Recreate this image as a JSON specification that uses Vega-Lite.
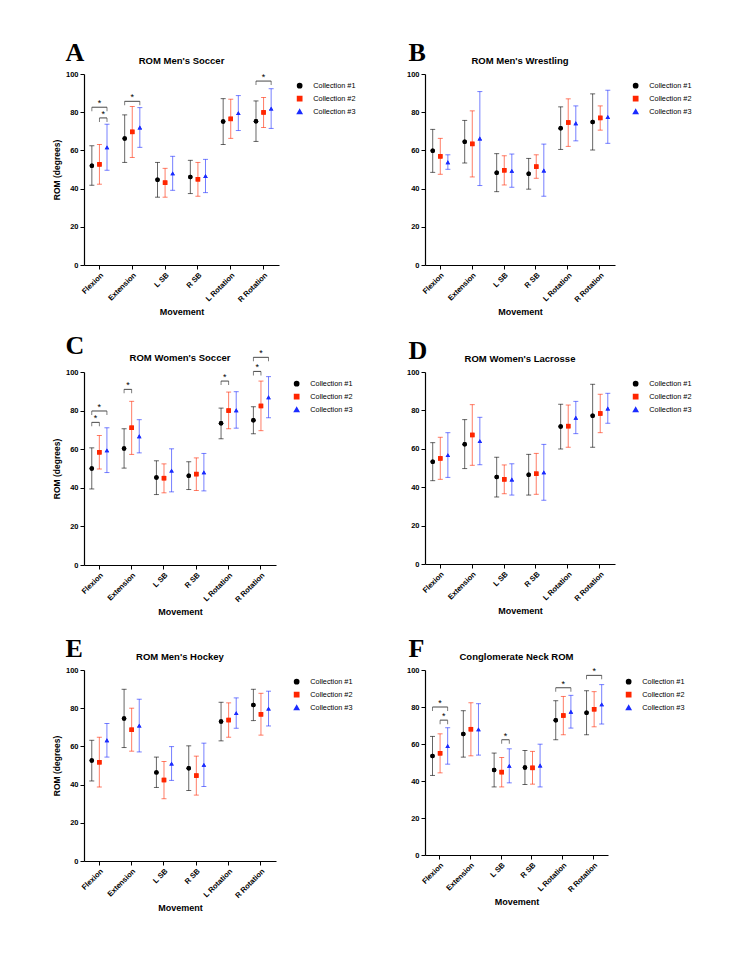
{
"$schema":"https://vega.github.io/schema/vega-lite/v6.json",
"padding":{"left":52,"top":39,"right":5,"bottom":5},
"config":{"font":"Liberation Sans","view":{"stroke":null},
"axis":{"domainColor":"#000","tickColor":"#000","domainWidth":1.2,"tickWidth":1,"tickSize":4,"labelFont":"Liberation Sans","labelFontWeight":"bold","labelFontSize":7.5,"labelColor":"#000","titleFont":"Liberation Sans","titleFontWeight":"bold","titleFontSize":8.5,"titleColor":"#000","grid":false},
"axisX":{"labelAngle":-45,"titleFontSize":9},
"title":{"font":"Liberation Sans","fontSize":9.5,"fontWeight":"bold","color":"#000","offset":5},
"legend":{"title":null,"orient":"right","offset":9,"labelFont":"Liberation Sans","labelFontSize":7.3,"labelColor":"#000","symbolSize":18,"rowPadding":2,"padding":8,"labelOffset":10}},
"datasets":{
"pts":[
{"p":"A","m":"Flexion","c":"Collection #1","mean":52.0,"lo":41.7,"hi":62.4},
{"p":"A","m":"Flexion","c":"Collection #2","mean":52.7,"lo":42.3,"hi":63.1},
{"p":"A","m":"Flexion","c":"Collection #3","mean":61.6,"lo":49.6,"hi":73.7},
{"p":"A","m":"Extension","c":"Collection #1","mean":66.2,"lo":53.7,"hi":78.6},
{"p":"A","m":"Extension","c":"Collection #2","mean":69.7,"lo":56.3,"hi":83.0},
{"p":"A","m":"Extension","c":"Collection #3","mean":72.0,"lo":61.6,"hi":82.4},
{"p":"A","m":"L SB","c":"Collection #1","mean":44.6,"lo":35.5,"hi":53.7},
{"p":"A","m":"L SB","c":"Collection #2","mean":43.1,"lo":35.5,"hi":50.6},
{"p":"A","m":"L SB","c":"Collection #3","mean":48.0,"lo":39.1,"hi":56.9},
{"p":"A","m":"R SB","c":"Collection #1","mean":46.1,"lo":37.4,"hi":54.8},
{"p":"A","m":"R SB","c":"Collection #2","mean":44.9,"lo":36.0,"hi":53.7},
{"p":"A","m":"R SB","c":"Collection #3","mean":46.6,"lo":37.9,"hi":55.3},
{"p":"A","m":"L Rotation","c":"Collection #1","mean":75.1,"lo":63.1,"hi":87.1},
{"p":"A","m":"L Rotation","c":"Collection #2","mean":76.5,"lo":66.3,"hi":86.8},
{"p":"A","m":"L Rotation","c":"Collection #3","mean":79.5,"lo":70.4,"hi":88.7},
{"p":"A","m":"R Rotation","c":"Collection #1","mean":75.3,"lo":64.7,"hi":85.9},
{"p":"A","m":"R Rotation","c":"Collection #2","mean":79.9,"lo":72.0,"hi":87.7},
{"p":"A","m":"R Rotation","c":"Collection #3","mean":81.9,"lo":71.5,"hi":92.3},
{"p":"B","m":"Flexion","c":"Collection #1","mean":59.8,"lo":48.5,"hi":71.0},
{"p":"B","m":"Flexion","c":"Collection #2","mean":56.9,"lo":47.5,"hi":66.3},
{"p":"B","m":"Flexion","c":"Collection #3","mean":53.8,"lo":50.1,"hi":57.7},
{"p":"B","m":"Extension","c":"Collection #1","mean":64.5,"lo":53.4,"hi":75.7},
{"p":"B","m":"Extension","c":"Collection #2","mean":63.4,"lo":46.1,"hi":80.7},
{"p":"B","m":"Extension","c":"Collection #3","mean":66.2,"lo":41.6,"hi":90.8},
{"p":"B","m":"L SB","c":"Collection #1","mean":48.3,"lo":38.4,"hi":58.3},
{"p":"B","m":"L SB","c":"Collection #2","mean":49.6,"lo":41.9,"hi":57.2},
{"p":"B","m":"L SB","c":"Collection #3","mean":49.3,"lo":40.7,"hi":58.1},
{"p":"B","m":"R SB","c":"Collection #1","mean":47.8,"lo":39.7,"hi":55.8},
{"p":"B","m":"R SB","c":"Collection #2","mean":51.5,"lo":45.4,"hi":57.7},
{"p":"B","m":"R SB","c":"Collection #3","mean":49.5,"lo":36.0,"hi":63.3},
{"p":"B","m":"L Rotation","c":"Collection #1","mean":71.6,"lo":60.5,"hi":82.8},
{"p":"B","m":"L Rotation","c":"Collection #2","mean":74.6,"lo":62.1,"hi":87.0},
{"p":"B","m":"L Rotation","c":"Collection #3","mean":74.2,"lo":65.0,"hi":83.3},
{"p":"B","m":"R Rotation","c":"Collection #1","mean":74.9,"lo":60.2,"hi":89.6},
{"p":"B","m":"R Rotation","c":"Collection #2","mean":77.0,"lo":70.6,"hi":83.3},
{"p":"B","m":"R Rotation","c":"Collection #3","mean":77.5,"lo":63.7,"hi":91.5},
{"p":"C","m":"Flexion","c":"Collection #1","mean":50.0,"lo":39.4,"hi":60.7},
{"p":"C","m":"Flexion","c":"Collection #2","mean":58.4,"lo":49.7,"hi":67.1},
{"p":"C","m":"Flexion","c":"Collection #3","mean":59.4,"lo":47.9,"hi":71.1},
{"p":"C","m":"Extension","c":"Collection #1","mean":60.4,"lo":50.2,"hi":70.6},
{"p":"C","m":"Extension","c":"Collection #2","mean":71.1,"lo":57.3,"hi":84.8},
{"p":"C","m":"Extension","c":"Collection #3","mean":66.7,"lo":58.1,"hi":75.3},
{"p":"C","m":"L SB","c":"Collection #1","mean":45.3,"lo":36.5,"hi":54.0},
{"p":"C","m":"L SB","c":"Collection #2","mean":45.0,"lo":37.4,"hi":52.4},
{"p":"C","m":"L SB","c":"Collection #3","mean":48.9,"lo":37.9,"hi":60.2},
{"p":"C","m":"R SB","c":"Collection #1","mean":46.3,"lo":39.1,"hi":53.5},
{"p":"C","m":"R SB","c":"Collection #2","mean":47.1,"lo":38.6,"hi":55.5},
{"p":"C","m":"R SB","c":"Collection #3","mean":48.0,"lo":38.4,"hi":57.8},
{"p":"C","m":"L Rotation","c":"Collection #1","mean":73.4,"lo":65.4,"hi":81.3},
{"p":"C","m":"L Rotation","c":"Collection #2","mean":80.0,"lo":70.6,"hi":89.6},
{"p":"C","m":"L Rotation","c":"Collection #3","mean":80.2,"lo":70.9,"hi":89.8},
{"p":"C","m":"R Rotation","c":"Collection #1","mean":75.0,"lo":68.0,"hi":82.0},
{"p":"C","m":"R Rotation","c":"Collection #2","mean":82.4,"lo":69.6,"hi":95.3},
{"p":"C","m":"R Rotation","c":"Collection #3","mean":86.9,"lo":76.3,"hi":97.6},
{"p":"D","m":"Flexion","c":"Collection #1","mean":53.3,"lo":43.4,"hi":63.2},
{"p":"D","m":"Flexion","c":"Collection #2","mean":55.0,"lo":44.1,"hi":66.0},
{"p":"D","m":"Flexion","c":"Collection #3","mean":56.7,"lo":45.1,"hi":68.4},
{"p":"D","m":"Extension","c":"Collection #1","mean":62.4,"lo":49.7,"hi":75.2},
{"p":"D","m":"Extension","c":"Collection #2","mean":67.2,"lo":51.4,"hi":83.0},
{"p":"D","m":"Extension","c":"Collection #3","mean":64.0,"lo":51.7,"hi":76.4},
{"p":"D","m":"L SB","c":"Collection #1","mean":45.3,"lo":34.9,"hi":55.6},
{"p":"D","m":"L SB","c":"Collection #2","mean":44.1,"lo":36.6,"hi":51.6},
{"p":"D","m":"L SB","c":"Collection #3","mean":44.0,"lo":35.9,"hi":52.2},
{"p":"D","m":"R SB","c":"Collection #1","mean":46.5,"lo":35.9,"hi":57.1},
{"p":"D","m":"R SB","c":"Collection #2","mean":47.0,"lo":36.3,"hi":57.6},
{"p":"D","m":"R SB","c":"Collection #3","mean":47.7,"lo":33.2,"hi":62.3},
{"p":"D","m":"L Rotation","c":"Collection #1","mean":71.6,"lo":59.9,"hi":83.2},
{"p":"D","m":"L Rotation","c":"Collection #2","mean":71.8,"lo":60.8,"hi":82.8},
{"p":"D","m":"L Rotation","c":"Collection #3","mean":76.2,"lo":67.9,"hi":84.7},
{"p":"D","m":"R Rotation","c":"Collection #1","mean":77.2,"lo":60.8,"hi":93.6},
{"p":"D","m":"R Rotation","c":"Collection #2","mean":78.4,"lo":68.4,"hi":88.4},
{"p":"D","m":"R Rotation","c":"Collection #3","mean":81.0,"lo":73.3,"hi":88.9},
{"p":"E","m":"Flexion","c":"Collection #1","mean":52.6,"lo":41.9,"hi":63.2},
{"p":"E","m":"Flexion","c":"Collection #2","mean":51.7,"lo":38.7,"hi":64.8},
{"p":"E","m":"Flexion","c":"Collection #3","mean":63.2,"lo":54.4,"hi":72.0},
{"p":"E","m":"Extension","c":"Collection #1","mean":74.6,"lo":59.4,"hi":89.9},
{"p":"E","m":"Extension","c":"Collection #2","mean":68.7,"lo":57.5,"hi":80.0},
{"p":"E","m":"Extension","c":"Collection #3","mean":70.9,"lo":57.1,"hi":84.7},
{"p":"E","m":"L SB","c":"Collection #1","mean":46.4,"lo":38.5,"hi":54.4},
{"p":"E","m":"L SB","c":"Collection #2","mean":42.4,"lo":32.6,"hi":52.1},
{"p":"E","m":"L SB","c":"Collection #3","mean":51.0,"lo":42.2,"hi":59.9},
{"p":"E","m":"R SB","c":"Collection #1","mean":48.6,"lo":36.9,"hi":60.3},
{"p":"E","m":"R SB","c":"Collection #2","mean":44.7,"lo":34.5,"hi":54.9},
{"p":"E","m":"R SB","c":"Collection #3","mean":50.3,"lo":39.0,"hi":61.7},
{"p":"E","m":"L Rotation","c":"Collection #1","mean":73.0,"lo":62.9,"hi":83.1},
{"p":"E","m":"L Rotation","c":"Collection #2","mean":73.8,"lo":64.8,"hi":82.8},
{"p":"E","m":"L Rotation","c":"Collection #3","mean":77.4,"lo":69.5,"hi":85.4},
{"p":"E","m":"R Rotation","c":"Collection #1","mean":81.7,"lo":73.5,"hi":89.9},
{"p":"E","m":"R Rotation","c":"Collection #2","mean":76.8,"lo":65.9,"hi":87.8},
{"p":"E","m":"R Rotation","c":"Collection #3","mean":79.8,"lo":70.7,"hi":88.9},
{"p":"F","m":"Flexion","c":"Collection #1","mean":53.5,"lo":43.0,"hi":64.1},
{"p":"F","m":"Flexion","c":"Collection #2","mean":55.0,"lo":44.4,"hi":65.5},
{"p":"F","m":"Flexion","c":"Collection #3","mean":58.9,"lo":49.1,"hi":68.8},
{"p":"F","m":"Extension","c":"Collection #1","mean":65.4,"lo":52.9,"hi":78.0},
{"p":"F","m":"Extension","c":"Collection #2","mean":68.0,"lo":53.6,"hi":82.3},
{"p":"F","m":"Extension","c":"Collection #3","mean":67.9,"lo":54.0,"hi":81.8},
{"p":"F","m":"L SB","c":"Collection #1","mean":45.9,"lo":36.8,"hi":55.1},
{"p":"F","m":"L SB","c":"Collection #2","mean":44.8,"lo":36.8,"hi":52.7},
{"p":"F","m":"L SB","c":"Collection #3","mean":48.2,"lo":39.0,"hi":57.4},
{"p":"F","m":"R SB","c":"Collection #1","mean":47.3,"lo":38.1,"hi":56.5},
{"p":"F","m":"R SB","c":"Collection #2","mean":47.1,"lo":38.3,"hi":56.0},
{"p":"F","m":"R SB","c":"Collection #3","mean":48.4,"lo":36.8,"hi":59.9},
{"p":"F","m":"L Rotation","c":"Collection #1","mean":72.8,"lo":62.3,"hi":83.4},
{"p":"F","m":"L Rotation","c":"Collection #2","mean":75.4,"lo":65.0,"hi":85.7},
{"p":"F","m":"L Rotation","c":"Collection #3","mean":77.4,"lo":68.6,"hi":86.3},
{"p":"F","m":"R Rotation","c":"Collection #1","mean":76.9,"lo":65.0,"hi":88.8},
{"p":"F","m":"R Rotation","c":"Collection #2","mean":78.8,"lo":69.3,"hi":88.3},
{"p":"F","m":"R Rotation","c":"Collection #3","mean":81.4,"lo":70.8,"hi":92.1}
],
"br":[
{"p":"A","b":"A1","m":"Flexion","s":"Collection #1","y":82.6},{"p":"A","b":"A1","m":"Flexion","s":"Collection #3","y":82.6},
{"p":"A","b":"A2","m":"Flexion","s":"Collection #2","y":77.0},{"p":"A","b":"A2","m":"Flexion","s":"Collection #3","y":77.0},
{"p":"A","b":"A3","m":"Extension","s":"Collection #1","y":85.7},{"p":"A","b":"A3","m":"Extension","s":"Collection #3","y":85.7},
{"p":"A","b":"A4","m":"R Rotation","s":"Collection #1","y":96.3},{"p":"A","b":"A4","m":"R Rotation","s":"Collection #3","y":96.3},
{"p":"C","b":"C1","m":"Flexion","s":"Collection #1","y":73.9},{"p":"C","b":"C1","m":"Flexion","s":"Collection #2","y":73.9},
{"p":"C","b":"C2","m":"Flexion","s":"Collection #1","y":79.8},{"p":"C","b":"C2","m":"Flexion","s":"Collection #3","y":79.8},
{"p":"C","b":"C3","m":"Extension","s":"Collection #1","y":91.0},{"p":"C","b":"C3","m":"Extension","s":"Collection #2","y":91.0},
{"p":"C","b":"C4","m":"L Rotation","s":"Collection #1","y":95.3},{"p":"C","b":"C4","m":"L Rotation","s":"Collection #2","y":95.3},
{"p":"C","b":"C5","m":"R Rotation","s":"Collection #1","y":100.3},{"p":"C","b":"C5","m":"R Rotation","s":"Collection #2","y":100.3},
{"p":"C","b":"C6","m":"R Rotation","s":"Collection #1","y":107.6},{"p":"C","b":"C6","m":"R Rotation","s":"Collection #3","y":107.6},
{"p":"F","b":"F1","m":"Flexion","s":"Collection #1","y":80.0},{"p":"F","b":"F1","m":"Flexion","s":"Collection #3","y":80.0},
{"p":"F","b":"F2","m":"Flexion","s":"Collection #2","y":72.9},{"p":"F","b":"F2","m":"Flexion","s":"Collection #3","y":72.9},
{"p":"F","b":"F3","m":"L SB","s":"Collection #2","y":62.3},{"p":"F","b":"F3","m":"L SB","s":"Collection #3","y":62.3},
{"p":"F","b":"F4","m":"L Rotation","s":"Collection #1","y":90.4},{"p":"F","b":"F4","m":"L Rotation","s":"Collection #3","y":90.4},
{"p":"F","b":"F5","m":"R Rotation","s":"Collection #1","y":97.1},{"p":"F","b":"F5","m":"R Rotation","s":"Collection #3","y":97.1}
],
"st":[
{"p":"A","m":"Flexion","s":"Collection #2","y":82.6},
{"p":"A","m":"Flexion","s":"m23","y":77.0},
{"p":"A","m":"Extension","s":"Collection #2","y":85.7},
{"p":"A","m":"R Rotation","s":"Collection #2","y":96.3},
{"p":"C","m":"Flexion","s":"m12","y":73.9},
{"p":"C","m":"Flexion","s":"Collection #2","y":79.8},
{"p":"C","m":"Extension","s":"m12","y":91.0},
{"p":"C","m":"L Rotation","s":"m12","y":95.3},
{"p":"C","m":"R Rotation","s":"m12","y":100.3},
{"p":"C","m":"R Rotation","s":"Collection #2","y":107.6},
{"p":"F","m":"Flexion","s":"Collection #2","y":80.0},
{"p":"F","m":"Flexion","s":"m23","y":72.9},
{"p":"F","m":"L SB","s":"m23","y":62.3},
{"p":"F","m":"L Rotation","s":"Collection #2","y":90.4},
{"p":"F","m":"R Rotation","s":"Collection #2","y":97.1}
]},
"resolve":{"legend":{"color":"independent","shape":"independent"}},
"spacing":16,
"vconcat":[
{"spacing":42,"resolve":{"legend":{"color":"independent","shape":"independent"}},"hconcat":[
{"title":{"text":"A","anchor":"start","font":"Liberation Serif","fontSize":26,"fontWeight":"bold","offset":-10,"dx":13},"resolve":{"legend":{"color":"independent","shape":"independent"}},"vconcat":[
{"width":195,"height":191,"title":"ROM Men's Soccer",
"encoding":{"x":{"field":"m","type":"nominal","sort":["Flexion","Extension","L SB","R SB","L Rotation","R Rotation"],"scale":{"paddingInner":0.4,"paddingOuter":0.17},"axis":{"title":"Movement"}},"y":{"type":"quantitative","scale":{"domain":[0,100],"nice":false},"axis":{"values":[0,20,40,60,80,100],"title":"ROM (degrees)"}}},
"layer":[
{"data":{"name":"pts"},"transform":[{"filter":{"field":"p","equal":"A"}}],"mark":{"type":"point","filled":true,"opacity":1,"size":20},"encoding":{"xOffset":{"field":"c","scale":{"type":"point","domain":["Collection #1","m12","Collection #2","m23","Collection #3"],"padding":0.6}},"y":{"field":"mean"},"color":{"field":"c","scale":{"domain":["Collection #1","Collection #2","Collection #3"],"range":["#000000","#ff2600","#1b2cff"]}},"shape":{"field":"c","scale":{"domain":["Collection #1","Collection #2","Collection #3"],"range":["circle","square","triangle-up"]}}}},
{"data":{"name":"pts"},"transform":[{"filter":{"field":"p","equal":"A"}}],"mark":{"type":"rule","opacity":0.6,"strokeWidth":1},"encoding":{"xOffset":{"field":"c"},"y":{"field":"lo"},"y2":{"field":"hi"},"color":{"field":"c"}}},
{"data":{"name":"pts"},"transform":[{"filter":{"field":"p","equal":"A"}}],"mark":{"type":"tick","orient":"horizontal","size":5,"thickness":1,"opacity":0.6},"encoding":{"xOffset":{"field":"c"},"y":{"field":"lo"},"color":{"field":"c"}}},
{"data":{"name":"pts"},"transform":[{"filter":{"field":"p","equal":"A"}}],"mark":{"type":"tick","orient":"horizontal","size":5,"thickness":1,"opacity":0.6},"encoding":{"xOffset":{"field":"c"},"y":{"field":"hi"},"color":{"field":"c"}}},
{"data":{"name":"pts"},"transform":[{"filter":{"field":"p","equal":"A"}}],"mark":{"type":"point","filled":true,"opacity":1,"size":20},"encoding":{"xOffset":{"field":"c"},"y":{"field":"mean"},"color":{"field":"c"},"shape":{"field":"c"}}},
{"data":{"name":"br"},"transform":[{"filter":{"field":"p","equal":"A"}}],"mark":{"type":"line","color":"#333","strokeWidth":0.9},"encoding":{"xOffset":{"field":"s"},"y":{"field":"y"},"detail":{"field":"b"}}},
{"data":{"name":"br"},"transform":[{"filter":{"field":"p","equal":"A"}}],"mark":{"type":"tick","orient":"vertical","size":4,"thickness":0.9,"color":"#333","yOffset":2},"encoding":{"xOffset":{"field":"s"},"y":{"field":"y"}}},
{"data":{"name":"st"},"transform":[{"filter":{"field":"p","equal":"A"}}],"mark":{"type":"text","text":"*","fontSize":9,"baseline":"alphabetic","dy":-1,"color":"#000"},"encoding":{"xOffset":{"field":"s"},"y":{"field":"y"}}}
]}]},
{"title":{"text":"B","anchor":"start","font":"Liberation Serif","fontSize":26,"fontWeight":"bold","offset":-10,"dx":2},"resolve":{"legend":{"color":"independent","shape":"independent"}},"vconcat":[
{"width":190,"height":191,"title":"ROM Men's Wrestling",
"encoding":{"x":{"field":"m","type":"nominal","sort":["Flexion","Extension","L SB","R SB","L Rotation","R Rotation"],"scale":{"paddingInner":0.4,"paddingOuter":0.17},"axis":{"title":"Movement"}},"y":{"type":"quantitative","scale":{"domain":[0,100],"nice":false},"axis":{"values":[0,20,40,60,80,100],"title":null}}},
"layer":[
{"data":{"name":"pts"},"transform":[{"filter":{"field":"p","equal":"B"}}],"mark":{"type":"point","filled":true,"opacity":1,"size":20},"encoding":{"xOffset":{"field":"c","scale":{"type":"point","domain":["Collection #1","m12","Collection #2","m23","Collection #3"],"padding":0.6}},"y":{"field":"mean"},"color":{"field":"c","scale":{"domain":["Collection #1","Collection #2","Collection #3"],"range":["#000000","#ff2600","#1b2cff"]}},"shape":{"field":"c","scale":{"domain":["Collection #1","Collection #2","Collection #3"],"range":["circle","square","triangle-up"]}}}},
{"data":{"name":"pts"},"transform":[{"filter":{"field":"p","equal":"B"}}],"mark":{"type":"rule","opacity":0.6,"strokeWidth":1},"encoding":{"xOffset":{"field":"c"},"y":{"field":"lo"},"y2":{"field":"hi"},"color":{"field":"c"}}},
{"data":{"name":"pts"},"transform":[{"filter":{"field":"p","equal":"B"}}],"mark":{"type":"tick","orient":"horizontal","size":5,"thickness":1,"opacity":0.6},"encoding":{"xOffset":{"field":"c"},"y":{"field":"lo"},"color":{"field":"c"}}},
{"data":{"name":"pts"},"transform":[{"filter":{"field":"p","equal":"B"}}],"mark":{"type":"tick","orient":"horizontal","size":5,"thickness":1,"opacity":0.6},"encoding":{"xOffset":{"field":"c"},"y":{"field":"hi"},"color":{"field":"c"}}},
{"data":{"name":"pts"},"transform":[{"filter":{"field":"p","equal":"B"}}],"mark":{"type":"point","filled":true,"opacity":1,"size":20},"encoding":{"xOffset":{"field":"c"},"y":{"field":"mean"},"color":{"field":"c"},"shape":{"field":"c"}}}
]}]}
]},
{"spacing":18,"resolve":{"legend":{"color":"independent","shape":"independent"}},"vconcat":[
{"spacing":45,"resolve":{"legend":{"color":"independent","shape":"independent"}},"hconcat":[
{"title":{"text":"C","anchor":"start","font":"Liberation Serif","fontSize":26,"fontWeight":"bold","offset":-10,"dx":13},"resolve":{"legend":{"color":"independent","shape":"independent"}},"vconcat":[
{"width":192,"height":193,"title":{"text":"ROM Women's  Soccer","offset":-13},
"encoding":{"x":{"field":"m","type":"nominal","sort":["Flexion","Extension","L SB","R SB","L Rotation","R Rotation"],"scale":{"paddingInner":0.4,"paddingOuter":0.17},"axis":{"title":"Movement"}},"y":{"type":"quantitative","scale":{"domain":[0,100],"nice":false},"axis":{"values":[0,20,40,60,80,100],"title":"ROM  (degrees)"}}},
"layer":[
{"data":{"name":"pts"},"transform":[{"filter":{"field":"p","equal":"C"}}],"mark":{"type":"point","filled":true,"opacity":1,"size":20},"encoding":{"xOffset":{"field":"c","scale":{"type":"point","domain":["Collection #1","m12","Collection #2","m23","Collection #3"],"padding":0.6}},"y":{"field":"mean"},"color":{"field":"c","scale":{"domain":["Collection #1","Collection #2","Collection #3"],"range":["#000000","#ff2600","#1b2cff"]}},"shape":{"field":"c","scale":{"domain":["Collection #1","Collection #2","Collection #3"],"range":["circle","square","triangle-up"]}}}},
{"data":{"name":"pts"},"transform":[{"filter":{"field":"p","equal":"C"}}],"mark":{"type":"rule","opacity":0.6,"strokeWidth":1},"encoding":{"xOffset":{"field":"c"},"y":{"field":"lo"},"y2":{"field":"hi"},"color":{"field":"c"}}},
{"data":{"name":"pts"},"transform":[{"filter":{"field":"p","equal":"C"}}],"mark":{"type":"tick","orient":"horizontal","size":5,"thickness":1,"opacity":0.6},"encoding":{"xOffset":{"field":"c"},"y":{"field":"lo"},"color":{"field":"c"}}},
{"data":{"name":"pts"},"transform":[{"filter":{"field":"p","equal":"C"}}],"mark":{"type":"tick","orient":"horizontal","size":5,"thickness":1,"opacity":0.6},"encoding":{"xOffset":{"field":"c"},"y":{"field":"hi"},"color":{"field":"c"}}},
{"data":{"name":"pts"},"transform":[{"filter":{"field":"p","equal":"C"}}],"mark":{"type":"point","filled":true,"opacity":1,"size":20},"encoding":{"xOffset":{"field":"c"},"y":{"field":"mean"},"color":{"field":"c"},"shape":{"field":"c"}}},
{"data":{"name":"br"},"transform":[{"filter":{"field":"p","equal":"C"}}],"mark":{"type":"line","color":"#333","strokeWidth":0.9},"encoding":{"xOffset":{"field":"s"},"y":{"field":"y"},"detail":{"field":"b"}}},
{"data":{"name":"br"},"transform":[{"filter":{"field":"p","equal":"C"}}],"mark":{"type":"tick","orient":"vertical","size":4,"thickness":0.9,"color":"#333","yOffset":2},"encoding":{"xOffset":{"field":"s"},"y":{"field":"y"}}},
{"data":{"name":"st"},"transform":[{"filter":{"field":"p","equal":"C"}}],"mark":{"type":"text","text":"*","fontSize":9,"baseline":"alphabetic","dy":-1,"color":"#000"},"encoding":{"xOffset":{"field":"s"},"y":{"field":"y"}}}
]}]},
{"title":{"text":"D","anchor":"start","font":"Liberation Serif","fontSize":26,"fontWeight":"bold","offset":-10,"dx":2},"resolve":{"legend":{"color":"independent","shape":"independent"}},"vconcat":[
{"width":190,"height":192,"title":"ROM Women's Lacrosse",
"encoding":{"x":{"field":"m","type":"nominal","sort":["Flexion","Extension","L SB","R SB","L Rotation","R Rotation"],"scale":{"paddingInner":0.4,"paddingOuter":0.17},"axis":{"title":"Movement"}},"y":{"type":"quantitative","scale":{"domain":[0,100],"nice":false},"axis":{"values":[0,20,40,60,80,100],"title":null}}},
"layer":[
{"data":{"name":"pts"},"transform":[{"filter":{"field":"p","equal":"D"}}],"mark":{"type":"point","filled":true,"opacity":1,"size":20},"encoding":{"xOffset":{"field":"c","scale":{"type":"point","domain":["Collection #1","m12","Collection #2","m23","Collection #3"],"padding":0.6}},"y":{"field":"mean"},"color":{"field":"c","scale":{"domain":["Collection #1","Collection #2","Collection #3"],"range":["#000000","#ff2600","#1b2cff"]}},"shape":{"field":"c","scale":{"domain":["Collection #1","Collection #2","Collection #3"],"range":["circle","square","triangle-up"]}}}},
{"data":{"name":"pts"},"transform":[{"filter":{"field":"p","equal":"D"}}],"mark":{"type":"rule","opacity":0.6,"strokeWidth":1},"encoding":{"xOffset":{"field":"c"},"y":{"field":"lo"},"y2":{"field":"hi"},"color":{"field":"c"}}},
{"data":{"name":"pts"},"transform":[{"filter":{"field":"p","equal":"D"}}],"mark":{"type":"tick","orient":"horizontal","size":5,"thickness":1,"opacity":0.6},"encoding":{"xOffset":{"field":"c"},"y":{"field":"lo"},"color":{"field":"c"}}},
{"data":{"name":"pts"},"transform":[{"filter":{"field":"p","equal":"D"}}],"mark":{"type":"tick","orient":"horizontal","size":5,"thickness":1,"opacity":0.6},"encoding":{"xOffset":{"field":"c"},"y":{"field":"hi"},"color":{"field":"c"}}},
{"data":{"name":"pts"},"transform":[{"filter":{"field":"p","equal":"D"}}],"mark":{"type":"point","filled":true,"opacity":1,"size":20},"encoding":{"xOffset":{"field":"c"},"y":{"field":"mean"},"color":{"field":"c"},"shape":{"field":"c"}}}
]}]}
]},
{"spacing":45,"resolve":{"legend":{"color":"independent","shape":"independent"}},"hconcat":[
{"title":{"text":"E","anchor":"start","font":"Liberation Serif","fontSize":26,"fontWeight":"bold","offset":-10,"dx":13},"resolve":{"legend":{"color":"independent","shape":"independent"}},"vconcat":[
{"width":192,"height":191,"title":"ROM Men's Hockey",
"encoding":{"x":{"field":"m","type":"nominal","sort":["Flexion","Extension","L SB","R SB","L Rotation","R Rotation"],"scale":{"paddingInner":0.4,"paddingOuter":0.17},"axis":{"title":"Movement"}},"y":{"type":"quantitative","scale":{"domain":[0,100],"nice":false},"axis":{"values":[0,20,40,60,80,100],"title":"ROM (degrees)"}}},
"layer":[
{"data":{"name":"pts"},"transform":[{"filter":{"field":"p","equal":"E"}}],"mark":{"type":"point","filled":true,"opacity":1,"size":20},"encoding":{"xOffset":{"field":"c","scale":{"type":"point","domain":["Collection #1","m12","Collection #2","m23","Collection #3"],"padding":0.6}},"y":{"field":"mean"},"color":{"field":"c","scale":{"domain":["Collection #1","Collection #2","Collection #3"],"range":["#000000","#ff2600","#1b2cff"]}},"shape":{"field":"c","scale":{"domain":["Collection #1","Collection #2","Collection #3"],"range":["circle","square","triangle-up"]}}}},
{"data":{"name":"pts"},"transform":[{"filter":{"field":"p","equal":"E"}}],"mark":{"type":"rule","opacity":0.6,"strokeWidth":1},"encoding":{"xOffset":{"field":"c"},"y":{"field":"lo"},"y2":{"field":"hi"},"color":{"field":"c"}}},
{"data":{"name":"pts"},"transform":[{"filter":{"field":"p","equal":"E"}}],"mark":{"type":"tick","orient":"horizontal","size":5,"thickness":1,"opacity":0.6},"encoding":{"xOffset":{"field":"c"},"y":{"field":"lo"},"color":{"field":"c"}}},
{"data":{"name":"pts"},"transform":[{"filter":{"field":"p","equal":"E"}}],"mark":{"type":"tick","orient":"horizontal","size":5,"thickness":1,"opacity":0.6},"encoding":{"xOffset":{"field":"c"},"y":{"field":"hi"},"color":{"field":"c"}}},
{"data":{"name":"pts"},"transform":[{"filter":{"field":"p","equal":"E"}}],"mark":{"type":"point","filled":true,"opacity":1,"size":20},"encoding":{"xOffset":{"field":"c"},"y":{"field":"mean"},"color":{"field":"c"},"shape":{"field":"c"}}}
]}]},
{"title":{"text":"F","anchor":"start","font":"Liberation Serif","fontSize":26,"fontWeight":"bold","offset":-10,"dx":2},"resolve":{"legend":{"color":"independent","shape":"independent"}},"vconcat":[
{"width":183,"height":185,"title":"Conglomerate Neck ROM",
"encoding":{"x":{"field":"m","type":"nominal","sort":["Flexion","Extension","L SB","R SB","L Rotation","R Rotation"],"scale":{"paddingInner":0.4,"paddingOuter":0.17},"axis":{"title":"Movement"}},"y":{"type":"quantitative","scale":{"domain":[0,100],"nice":false},"axis":{"values":[0,20,40,60,80,100],"title":null}}},
"layer":[
{"data":{"name":"pts"},"transform":[{"filter":{"field":"p","equal":"F"}}],"mark":{"type":"point","filled":true,"opacity":1,"size":20},"encoding":{"xOffset":{"field":"c","scale":{"type":"point","domain":["Collection #1","m12","Collection #2","m23","Collection #3"],"padding":0.6}},"y":{"field":"mean"},"color":{"field":"c","scale":{"domain":["Collection #1","Collection #2","Collection #3"],"range":["#000000","#ff2600","#1b2cff"]}},"shape":{"field":"c","scale":{"domain":["Collection #1","Collection #2","Collection #3"],"range":["circle","square","triangle-up"]}}}},
{"data":{"name":"pts"},"transform":[{"filter":{"field":"p","equal":"F"}}],"mark":{"type":"rule","opacity":0.6,"strokeWidth":1},"encoding":{"xOffset":{"field":"c"},"y":{"field":"lo"},"y2":{"field":"hi"},"color":{"field":"c"}}},
{"data":{"name":"pts"},"transform":[{"filter":{"field":"p","equal":"F"}}],"mark":{"type":"tick","orient":"horizontal","size":5,"thickness":1,"opacity":0.6},"encoding":{"xOffset":{"field":"c"},"y":{"field":"lo"},"color":{"field":"c"}}},
{"data":{"name":"pts"},"transform":[{"filter":{"field":"p","equal":"F"}}],"mark":{"type":"tick","orient":"horizontal","size":5,"thickness":1,"opacity":0.6},"encoding":{"xOffset":{"field":"c"},"y":{"field":"hi"},"color":{"field":"c"}}},
{"data":{"name":"pts"},"transform":[{"filter":{"field":"p","equal":"F"}}],"mark":{"type":"point","filled":true,"opacity":1,"size":20},"encoding":{"xOffset":{"field":"c"},"y":{"field":"mean"},"color":{"field":"c"},"shape":{"field":"c"}}},
{"data":{"name":"br"},"transform":[{"filter":{"field":"p","equal":"F"}}],"mark":{"type":"line","color":"#333","strokeWidth":0.9},"encoding":{"xOffset":{"field":"s"},"y":{"field":"y"},"detail":{"field":"b"}}},
{"data":{"name":"br"},"transform":[{"filter":{"field":"p","equal":"F"}}],"mark":{"type":"tick","orient":"vertical","size":4,"thickness":0.9,"color":"#333","yOffset":2},"encoding":{"xOffset":{"field":"s"},"y":{"field":"y"}}},
{"data":{"name":"st"},"transform":[{"filter":{"field":"p","equal":"F"}}],"mark":{"type":"text","text":"*","fontSize":9,"baseline":"alphabetic","dy":-1,"color":"#000"},"encoding":{"xOffset":{"field":"s"},"y":{"field":"y"}}}
]}]}
]}
]}
]
}
